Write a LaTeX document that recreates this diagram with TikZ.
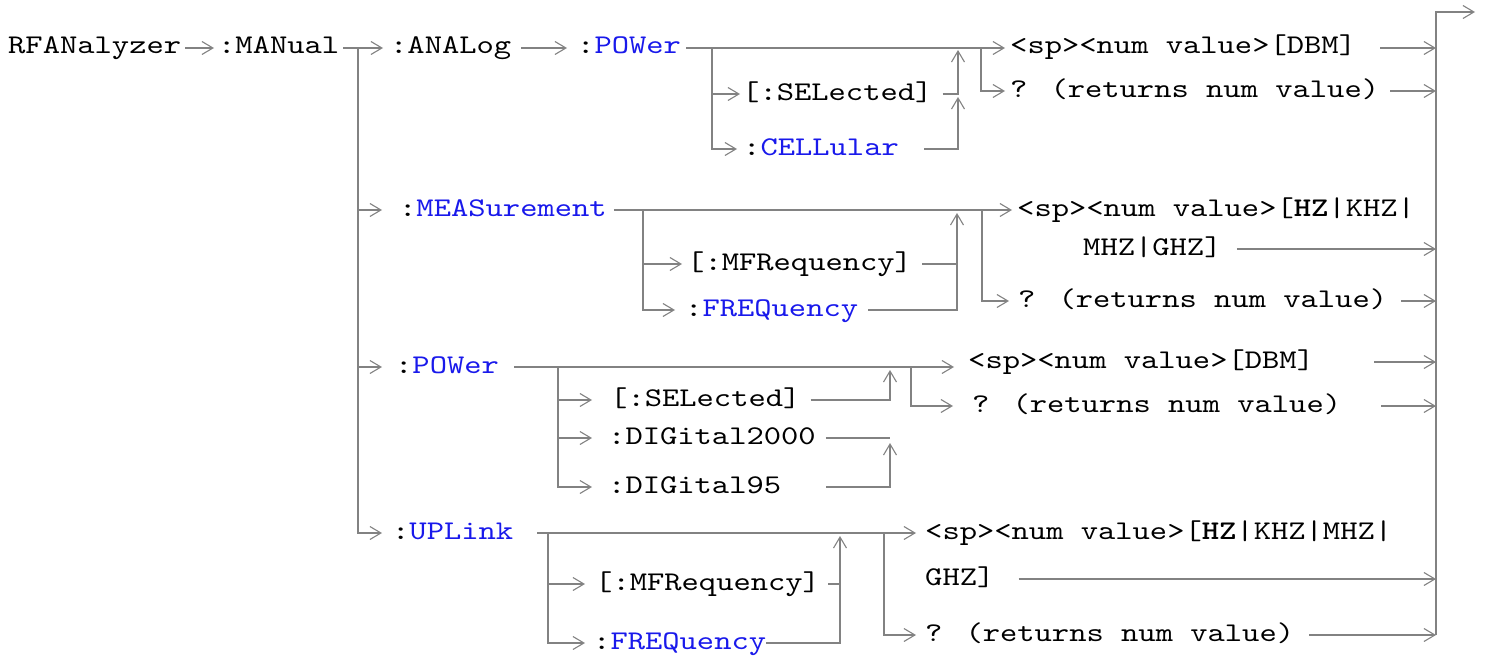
\documentclass[tikz,border=0pt]{standalone}
\usepackage{fontspec}
\usepackage{xcolor}
\usetikzlibrary{arrows.meta}

\newfontfamily\scpifont{lmmono10-regular}[Extension=.otf,BoldFont=lmmonolt10-bold,FakeStretch=1.22]
\definecolor{linegray}{RGB}{130,130,130}
\definecolor{kwblue}{RGB}{25,25,235}
\newcommand{\kw}[1]{\textcolor{kwblue}{#1}}

\begin{document}
\begin{tikzpicture}[
  x=1pt, y=-1pt,
  lbl/.style={anchor=west, inner sep=0pt, text height=17pt, text depth=5pt,
              font=\scpifont\fontsize{27}{30}\selectfont},
  line/.style={draw=linegray, line width=2pt},
  arr/.style={line, -{Straight Barb[length=11pt,width=13pt,line width=1.1pt]}}
]
\useasboundingbox (0,0) rectangle (1486,661);

% command keywords
\node[lbl] (rfa)   at (8,48)     {RFANalyzer};
\node[lbl] (man)   at (218,48)   {:MANual};
\node[lbl] (ana)   at (390,48)   {:ANALog};
\node[lbl] (apow)  at (577,48)   {:\kw{POWer}};
\node[lbl] (asel)  at (742,94)   {[:SELected]};
\node[lbl] (acel)  at (743,149)  {:\kw{CELLular}};
\node[lbl] (anum)  at (1010,48)  {<sp><num value>[DBM]};
\node[lbl] (aq)    at (1010,91)  {? (returns num value)};

\node[lbl] (meas)  at (399,210)  {:\kw{MEASurement}};
\node[lbl] (mmf)   at (687,264)  {[:MFRequency]};
\node[lbl] (mfreq) at (685,310)  {:\kw{FREQuency}};
\node[lbl] (mnum)  at (1017,210) {<sp><num value>[\textbf{HZ}|KHZ|};
\node[lbl] (mnum2) at (1083,249) {MHZ|GHZ]};
\node[lbl] (mq)    at (1018,301) {? (returns num value)};

\node[lbl] (pow)   at (395,367)  {:\kw{POWer}};
\node[lbl] (psel)  at (610,400)  {[:SELected]};
\node[lbl] (pd2k)  at (608,438)  {:DIGital2000};
\node[lbl] (pd95)  at (608,487)  {:DIGital95};
\node[lbl] (pnum)  at (968,362)  {<sp><num value>[DBM]};
\node[lbl] (pq)    at (972,406)  {? (returns num value)};

\node[lbl] (upl)   at (392,533)  {:\kw{UPLink}};
\node[lbl] (umf)   at (595,584)  {[:MFRequency]};
\node[lbl] (ufreq) at (593,643)  {:\kw{FREQuency}};
\node[lbl] (unum)  at (925,533)  {<sp><num value>[\textbf{HZ}|KHZ|MHZ|};
\node[lbl] (unum2) at (925,579)  {GHZ]};
\node[lbl] (uq)    at (925,635)  {? (returns num value)};

% branch points
\coordinate (mb)  at (358,48);
\coordinate (ab)  at (712,48);
\coordinate (aj1) at (958,50);
\coordinate (aj2) at (958,97);
\coordinate (aqb) at (981,48);
\coordinate (mb2) at (643,210);
\coordinate (mj)  at (957,213);
\coordinate (mqb) at (982,210);
\coordinate (pb)  at (558,367);
\coordinate (pj1) at (890,370);
\coordinate (pj2) at (890,443);
\coordinate (pqb) at (911,367);
\coordinate (ub)  at (548,533);
\coordinate (uj)  at (840,536);
\coordinate (uqb) at (884,533);
\coordinate (rb)  at (1436,12);
\coordinate (rt)  at (1475,12);

% top level
\draw[arr, shorten <=4pt, shorten >=4pt] (rfa) -- (man);
\draw[arr, shorten <=4pt, shorten >=7pt] (man) -- (ana);
\foreach \n/\g in {meas/17,pow/13,upl/10}
  \draw[arr, shorten >=\g pt] (mb) |- (\n.west);

% :ANALog
\draw[arr, shorten <=10pt, shorten >=10pt] (ana) -- (apow);
\draw[arr, shorten <=5pt, shorten >=5pt] (apow) -- (anum);
\foreach \n/\g in {asel/2,acel/6}
  \draw[arr, shorten >=\g pt] (ab) |- (\n.west);
\draw[arr, shorten <=10pt] (asel.east) -| (aj1);
\draw[arr, shorten <=25pt] (acel.east) -| (aj2);
\draw[arr, shorten >=5pt] (aqb) |- (aq.west);

% :MEASurement
\draw[arr, shorten <=7pt, shorten >=5pt] (meas) -- (mnum);
\foreach \n/\g in {mmf/5,mfreq/10}
  \draw[arr, shorten >=\g pt] (mb2) |- (\n.west);
\draw[line, shorten <=10pt] (mmf.east) -- (mmf.east -| mj);
\draw[arr, shorten <=10pt] (mfreq.east) -| (mj);
\draw[arr, shorten >=9pt] (mqb) |- (mq.west);

% :POWer
\draw[arr, shorten <=15pt, shorten >=14pt] (pow.east) -- (pow.east -| pnum.west);
\foreach \n/\g in {psel/18,pd2k/16,pd95/16}
  \draw[arr, shorten >=\g pt] (pb) |- (\n.west);
\draw[arr, shorten <=10pt] (psel.east) -| (pj1);
\draw[line, shorten <=10pt] (pd2k.east) -- (pd2k.east -| pj1);
\draw[arr, shorten <=45pt] (pd95.east) -| (pj2);
\draw[arr, shorten >=19pt] (pqb) |- (pq.west);

% :UPLink
\draw[arr, shorten <=24pt, shorten >=9pt] (upl) -- (unum);
\foreach \n/\g in {umf/10,ufreq/8}
  \draw[arr, shorten >=\g pt] (ub) |- (\n.west);
\draw[line, shorten <=8pt] (umf.east) -- (umf.east -| uj);
\draw[arr] (ufreq.east) -| (uj);
\draw[arr, shorten >=9pt] (uqb) |- (uq.west);

% closing bus
\draw[arr] (uq.east -| rb) -- (rb) -- (rt);
\foreach \n/\g in {anum/24,aq/11,mnum2/15,mq/14,pnum/60,pq/40,unum2/24,uq/15}
  \draw[arr, shorten <=\g pt] (\n.east) -- (\n.east -| rb);
\end{tikzpicture}
\end{document}
